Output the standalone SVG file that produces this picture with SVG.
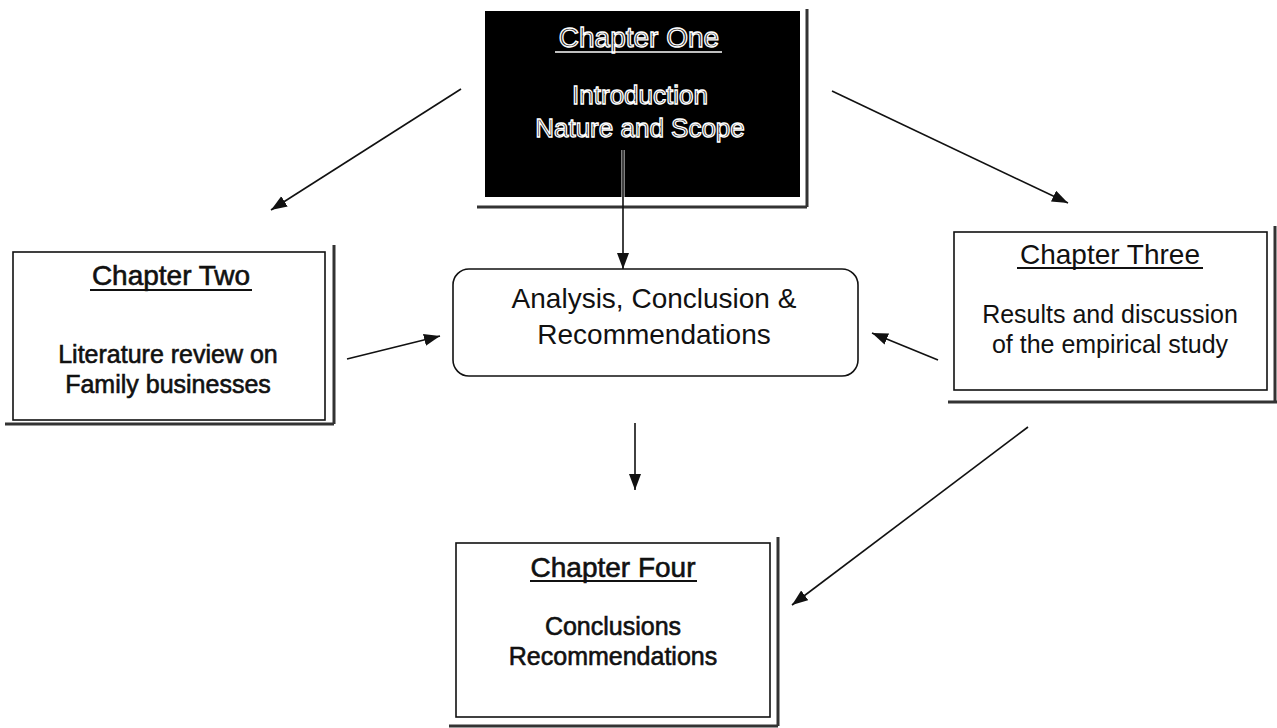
<svg xmlns="http://www.w3.org/2000/svg" width="1277" height="728" viewBox="0 0 1277 728">
<style>
  .box { fill: #fff; stroke: #111; stroke-width: 1.6; }
  .shadow { stroke: #333; stroke-width: 3; fill: none; }
  .t { font-family: "Liberation Sans", Arial, sans-serif; text-anchor: middle; fill: #111; }
  .title { font-size: 28px; }
  .body { font-size: 25px; }
  .heavy { stroke: #111; stroke-width: 0.6; }
  .ul { stroke: #111; stroke-width: 1.8; }
  .hollow { fill: #222; stroke: #fff; stroke-width: 1.3; }
  .conn { stroke: #111; stroke-width: 1.6; fill: none; marker-end: url(#ah); }
</style>
<defs>
  <marker id="ah" markerUnits="userSpaceOnUse" markerWidth="18" markerHeight="14" refX="16" refY="6" orient="auto">
    <path d="M0,0 L16,6 L0,12 z" fill="#111"/>
  </marker>
</defs>
<rect width="1277" height="728" fill="#fff"/>

<g id="chapter-one">
  <path class="shadow" d="M477,207 L807,207 M807,9 L807,207"/>
  <rect x="485" y="11" width="315" height="186" fill="#000"/>
  <text class="t title hollow" x="639" y="47">Chapter One</text>
  <line x1="555" y1="52" x2="722" y2="52" stroke="#fff" stroke-width="1.6"/>
  <text class="t body hollow" x="640" y="104" style="font-size:26px">Introduction</text>
  <text class="t body hollow" x="640" y="137" style="font-size:26px">Nature and Scope</text>
</g>

<g id="chapter-two">
  <path class="shadow" d="M5,424 L334,424 M334,245 L334,424"/>
  <rect class="box" x="13" y="252" width="312" height="168"/>
  <text class="t title heavy" x="171" y="285">Chapter Two</text>
  <line class="ul" x1="90" y1="290" x2="252" y2="290"/>
  <text class="t body heavy" x="168" y="363">Literature review on</text>
  <text class="t body heavy" x="168" y="393">Family businesses</text>
</g>

<g id="chapter-three">
  <path class="shadow" d="M948,402 L1277,402 M1275,226 L1275,402"/>
  <rect class="box" x="954" y="232" width="313" height="158"/>
  <text class="t title" x="1110" y="264">Chapter Three</text>
  <line class="ul" x1="1017" y1="268" x2="1203" y2="268"/>
  <text class="t body" x="1110" y="323">Results and discussion</text>
  <text class="t body" x="1110" y="353">of the empirical study</text>
</g>

<g id="analysis">
  <rect class="box" x="453" y="269" width="405" height="107" rx="16" ry="16"/>
  <text class="t title" x="654" y="308">Analysis, Conclusion &amp;</text>
  <text class="t title" x="654" y="344">Recommendations</text>
</g>

<g id="chapter-four">
  <path class="shadow" d="M449,726 L778,726 M778,537 L778,726"/>
  <rect class="box" x="456" y="543" width="314" height="174"/>
  <text class="t title heavy" x="613" y="577">Chapter Four</text>
  <line class="ul" x1="530" y1="581" x2="697" y2="581"/>
  <text class="t body heavy" x="613" y="635">Conclusions</text>
  <text class="t body heavy" x="613" y="665">Recommendations</text>
</g>

<g id="connectors">
  <line x1="623" y1="150" x2="623" y2="197" stroke="#fff" stroke-width="3"/>
  <line class="conn" x1="461" y1="89" x2="271" y2="210"/>
  <line class="conn" x1="832" y1="91" x2="1068" y2="203"/>
  <line class="conn" x1="623" y1="150" x2="623" y2="269"/>
  <line class="conn" x1="347" y1="359" x2="440" y2="336"/>
  <line class="conn" x1="938" y1="360" x2="872" y2="333"/>
  <line class="conn" x1="635" y1="423" x2="635" y2="490"/>
  <line class="conn" x1="1028" y1="427" x2="792" y2="605"/>
</g>
</svg>
